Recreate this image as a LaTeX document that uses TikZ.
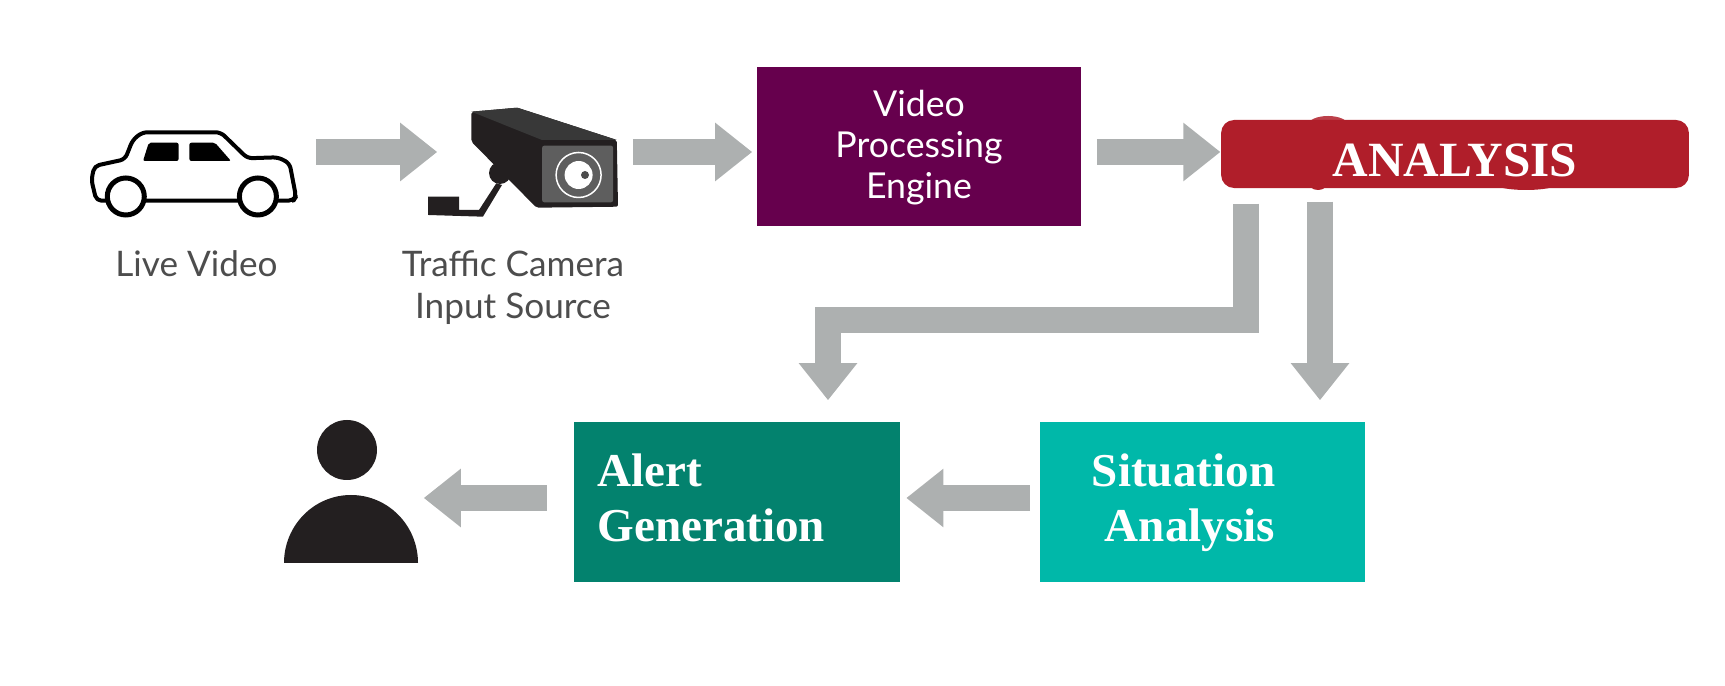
\documentclass[tikz,border=0pt]{standalone}
\usepackage{fontspec}
\setmainfont{Liberation Serif}
\setsansfont{Lato}
\usetikzlibrary{arrows.meta}
\definecolor{arrowgray}{HTML}{ADB0B0}
\definecolor{enginepurple}{HTML}{66004D}
\definecolor{analysisred}{HTML}{B01E2A}
\definecolor{alertgreen}{HTML}{03826E}
\definecolor{situationteal}{HTML}{00B8A9}
\definecolor{labelgray}{HTML}{4D4D4D}
\definecolor{iconblack}{HTML}{231F20}
\begin{document}
\begin{tikzpicture}[x=0.01cm,y=-0.01cm]
	\tikzstyle{every node}+=[inner sep=0pt]
	\tikzstyle{flowarrow}=[draw=arrowgray,line width=0.26cm,-{Triangle[length=0.37cm,width=0.56cm,fill=arrowgray]}]
	\tikzstyle{iconbox}=[minimum height=0.6cm]
	\tikzstyle{lightlabel}=[font=\sffamily\fontsize{10}{11.9}\selectfont,text=labelgray,align=center]
	\tikzstyle{stepbox}=[minimum width=3.25cm,minimum height=1.6cm]
	\tikzstyle{boldlabel}=[font=\bfseries\fontsize{13.4}{15.65}\selectfont,text=white]
	\useasboundingbox (0,0) rectangle (1725,686);
	\coordinate (rowTop) at (0,152);
	\coordinate (rowLow) at (0,498);
	\coordinate (bendA) at (1246,320.5);
	\coordinate (bendB) at (828,320.5);
	\coordinate (tapB) at (1320,300);
	% invisible boxes round the icons
	\node (carIcon) [iconbox,minimum width=2.05cm] at (193.5,175) {};
	\node (camIcon) [iconbox,minimum width=1.47cm] at (544.5,160) {};
	\node (userIcon) [iconbox,minimum width=1.34cm] at (351,491) {};
	% car
	\draw [line width=0.04cm,line join=round,rounded corners=0.05cm,fill=white] (91.4,180) -- (94.4,166) -- (125,159.3) -- (132.7,140) -- (142.3,132.3) -- (220.7,132.3) -- (247.5,158.3) -- (278,157.3) -- (289.6,163.3) -- (296,196.7) -- (293.4,200.7) -- (96.4,200.7) -- cycle;
	\fill [rounded corners=0.02cm] (148.8,142.7) -- (178.6,142.7) -- (178.6,161) -- (143,161) -- cycle;
	\fill [rounded corners=0.02cm] (189.4,142.7) -- (215,142.7) -- (231,161) -- (189.4,161) -- cycle;
	\draw [line width=0.05cm,fill=white] (125.8,196.5) circle (18.5);
	\draw [line width=0.05cm,fill=white] (257.9,196.5) circle (18.5);
	\node (liveLabel) [lightlabel] at (196.5,264) {Live Video};
	% camera
	\fill [iconblack] (428.2,196.7) -- (459.2,196.7) -- (459.2,210) -- (479,210) -- (496.3,183.3) -- (502,185) -- (482.9,216.7) -- (428.2,215) -- cycle;
	\fill [iconblack] (500,173) circle (11);
	\fill [iconblack,rounded corners=0.02cm] (471.4,111.7) -- (517.3,107.7) -- (616.8,140) -- (618,206.7) -- (536.5,207.7) -- (471.4,141.7) -- cycle;
	\fill [black!78] (471.4,111.7) -- (517.3,107.7) -- (616.8,140) -- (542,140) -- cycle;
	\fill [black!63,rounded corners=0.02cm] (542.2,145.7) rectangle (613,202.3);
	\draw [white,line width=0.015cm] (578.6,175) circle (22.5);
	\fill [white] (578.6,175) circle (14);
	\fill [black!70] (585,175) circle (4);
	\node (camLabel) [lightlabel] at (513,288) {Traffic Camera\\Input Source};
	% boxes
	\fill [analysisred!85!white] (1328,125) ellipse (20 and 9);
	\fill [analysisred] (1318,182) ellipse (10 and 8);
	\fill [analysisred] (1526,182) ellipse (35 and 8);
	\node (engine) [minimum width=3.24cm,minimum height=1.59cm,fill=enginepurple,text=white,font=\sffamily\fontsize{10.15}{11.75}\selectfont,align=center,text depth=0.04cm] at (919,146.5) {Video\\Processing\\Engine};
	\node (analysis) [boldlabel,font=\bfseries\fontsize{14}{16}\selectfont,minimum width=4.675cm,minimum height=0.68cm,rounded corners=0.13cm,fill=analysisred,text height=0.44cm,text depth=0cm] at (1455,154) {ANALYSIS};
	\node (alert) [stepbox,boldlabel,fill=alertgreen,align=left,text width=2.79cm,inner xsep=0.23cm,text depth=0.64cm] at (737,502) {Alert\\Generation};
	\node (situation) [stepbox,boldlabel,fill=situationteal,align=left,text width=2.21cm,inner xsep=0.52cm,text depth=0.64cm] at (1202.5,502) {Situation\\\hspace*{0.13cm}Analysis};
	% person
	\fill [iconblack] (347,450) ellipse (30 and 30);
	\fill [iconblack] (284,563) arc (180:360:67 and 68) -- cycle;
	% connectors
	\draw [flowarrow,shorten <=0.19cm,shorten >=0.33cm] (carIcon.east |- rowTop) -- (camIcon.west |- rowTop);
	\draw [flowarrow,shorten <=0.14cm,shorten >=0.04cm] (camIcon.east |- rowTop) -- (engine.west |- rowTop);
	\draw [flowarrow,shorten <=0.15cm] (engine.east |- rowTop) -- (analysis.west |- rowTop);
	\draw [flowarrow,shorten <=0.15cm,shorten >=0.21cm] (bendA |- analysis.south) -- (bendA) -- (bendB) -- (bendB |- alert.north);
	\draw [flowarrow,shorten <=0.13cm,shorten >=0.21cm] (tapB |- analysis.south) -- (tapB |- situation.north);
	\draw [flowarrow,shorten <=0.09cm,shorten >=0.06cm] (situation.west |- rowLow) -- (alert.east |- rowLow);
	\draw [flowarrow,shorten <=0.27cm,shorten >=0.05cm] (alert.west |- rowLow) -- (userIcon.east |- rowLow);
\end{tikzpicture}
\end{document}
